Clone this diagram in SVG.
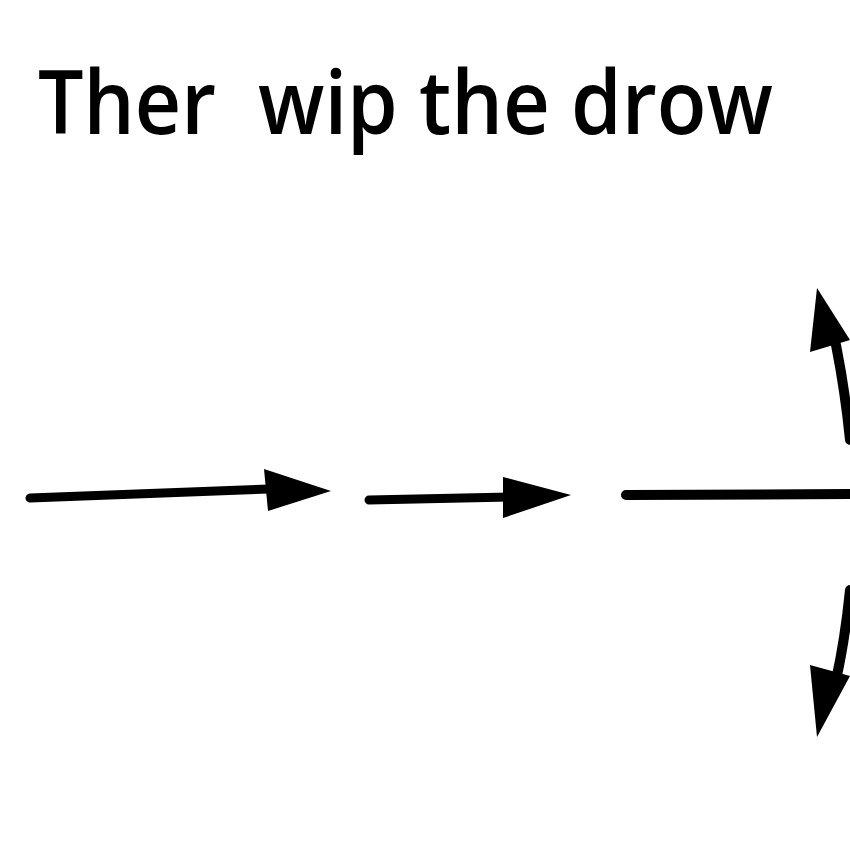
<svg xmlns="http://www.w3.org/2000/svg" width="850" height="850" viewBox="0 0 850 850">
<style>
.t{font-family:"Open Sans","Noto Sans",sans-serif;font-size:88px;font-weight:600;fill:#000;}
.s{fill:none;stroke:#000;stroke-width:9;stroke-linecap:round;}
.h{fill:#000;}
</style>
<rect width="850" height="850" fill="#fff"/>
<g id="title">
<text class="t" x="38" y="134" textLength="178" lengthAdjust="spacingAndGlyphs">Ther</text>
<text class="t" x="258" y="134" textLength="515" lengthAdjust="spacingAndGlyphs">wip the drow</text>
</g>
<g id="connectors">
<path class="s" d="M30 498 L270 489"/>
<polygon class="h" points="264,469 331,491 268,511"/>
<path class="s" d="M369 500 L510 497"/>
<polygon class="h" points="503,477 571,495 503,518"/>
<path class="s" d="M626 495 L850 494" style="stroke-width:10"/>
<path class="s" d="M850 440 Q845 390 836 345" style="stroke-width:10"/>
<polygon class="h" points="817,288 850,340 810,352"/>
<path class="s" d="M850 590 Q845 640 836 680" style="stroke-width:10"/>
<polygon class="h" points="817,737 850,676 810,665"/>
</g>
</svg>
